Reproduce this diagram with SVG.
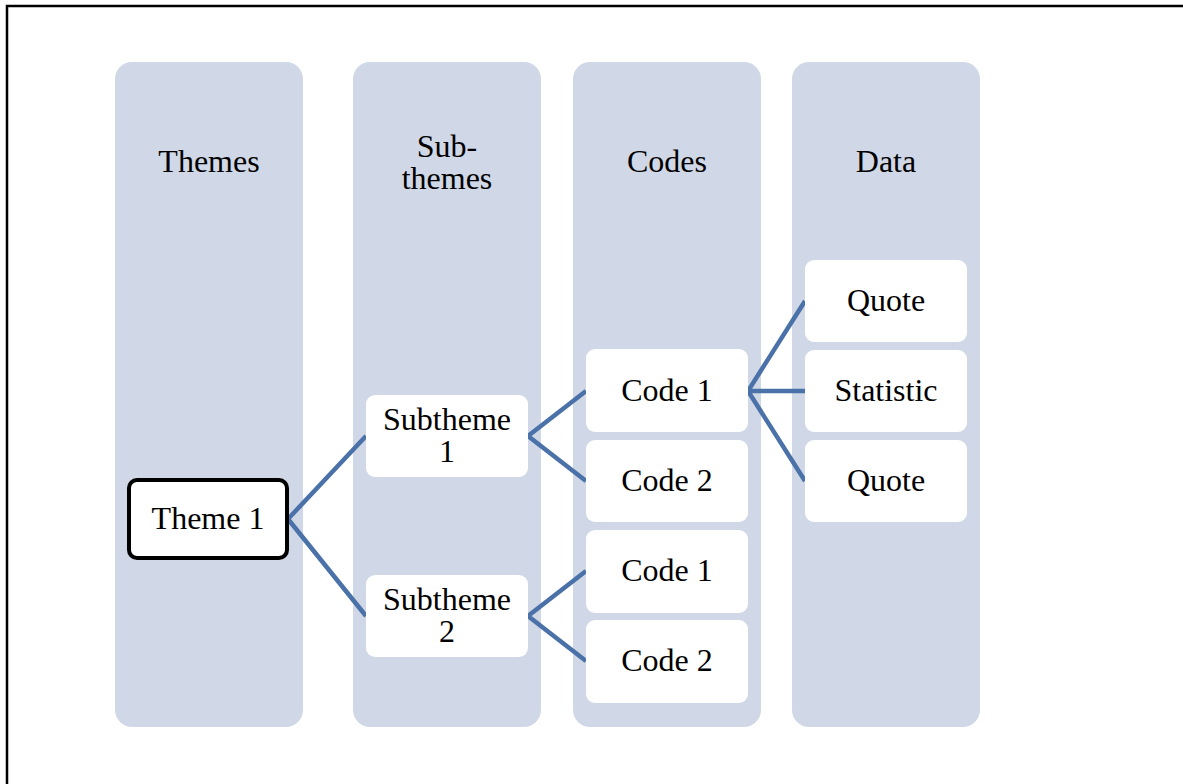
<svg xmlns="http://www.w3.org/2000/svg" width="1183" height="784" viewBox="0 0 1183 784">
  <style>
    .col { fill: #d0d8e7; }
    .node { fill: #ffffff; }
    .main { fill: #ffffff; stroke: #000000; stroke-width: 4; }
    .lbl { font-family: "Liberation Serif", "Times New Roman", serif; font-size: 32px; fill: #000000; text-anchor: middle; }
    .link { stroke: #4a71a8; stroke-width: 4.5; fill: none; stroke-linecap: butt; stroke-linejoin: miter; }
  </style>

  <!-- outer frame (top and left edges visible) -->
  <rect x="7" y="6" width="1200" height="800" fill="#ffffff" stroke="#000000" stroke-width="2.5"/>

  <!-- column backgrounds with headers -->
  <g id="col-themes">
    <rect class="col" x="115" y="62" width="188" height="665" rx="17"/>
    <text class="lbl" x="209" y="172">Themes</text>
  </g>
  <g id="col-subthemes">
    <rect class="col" x="353" y="62" width="188" height="665" rx="17"/>
    <text class="lbl" x="447" y="157">Sub-</text>
    <text class="lbl" x="447" y="189">themes</text>
  </g>
  <g id="col-codes">
    <rect class="col" x="573" y="62" width="188" height="665" rx="17"/>
    <text class="lbl" x="667" y="172">Codes</text>
  </g>
  <g id="col-data">
    <rect class="col" x="792" y="62" width="188" height="665" rx="17"/>
    <text class="lbl" x="886" y="172">Data</text>
  </g>

  <!-- connectors -->
  <g id="connectors">
    <polyline class="link" points="366,436 288,519 366,616"/>
    <polyline class="link" points="586,391 528,436 586,481"/>
    <polyline class="link" points="586,571 528,616 586,661"/>
    <polyline class="link" points="805,301 748,391 805,481"/>
    <line class="link" x1="748" y1="391" x2="805" y2="391"/>
  </g>

  <!-- nodes -->
  <g id="theme-1">
    <rect class="main" x="129" y="480" width="158" height="78" rx="8"/>
    <text class="lbl" x="208" y="529">Theme 1</text>
  </g>
  <g id="subtheme-1">
    <rect class="node" x="366" y="395" width="162" height="82" rx="9"/>
    <text class="lbl" x="447" y="430">Subtheme</text>
    <text class="lbl" x="447" y="462">1</text>
  </g>
  <g id="subtheme-2">
    <rect class="node" x="366" y="575" width="162" height="82" rx="9"/>
    <text class="lbl" x="447" y="610">Subtheme</text>
    <text class="lbl" x="447" y="642">2</text>
  </g>
  <g id="code-1a">
    <rect class="node" x="586" y="349" width="162" height="83" rx="9"/>
    <text class="lbl" x="667" y="401">Code 1</text>
  </g>
  <g id="code-2a">
    <rect class="node" x="586" y="440" width="162" height="82" rx="9"/>
    <text class="lbl" x="667" y="491">Code 2</text>
  </g>
  <g id="code-1b">
    <rect class="node" x="586" y="530" width="162" height="83" rx="9"/>
    <text class="lbl" x="667" y="581">Code 1</text>
  </g>
  <g id="code-2b">
    <rect class="node" x="586" y="620" width="162" height="83" rx="9"/>
    <text class="lbl" x="667" y="671">Code 2</text>
  </g>
  <g id="quote-1">
    <rect class="node" x="805" y="260" width="162" height="82" rx="9"/>
    <text class="lbl" x="886" y="311">Quote</text>
  </g>
  <g id="statistic">
    <rect class="node" x="805" y="350" width="162" height="82" rx="9"/>
    <text class="lbl" x="886" y="401">Statistic</text>
  </g>
  <g id="quote-2">
    <rect class="node" x="805" y="440" width="162" height="82" rx="9"/>
    <text class="lbl" x="886" y="491">Quote</text>
  </g>
</svg>
